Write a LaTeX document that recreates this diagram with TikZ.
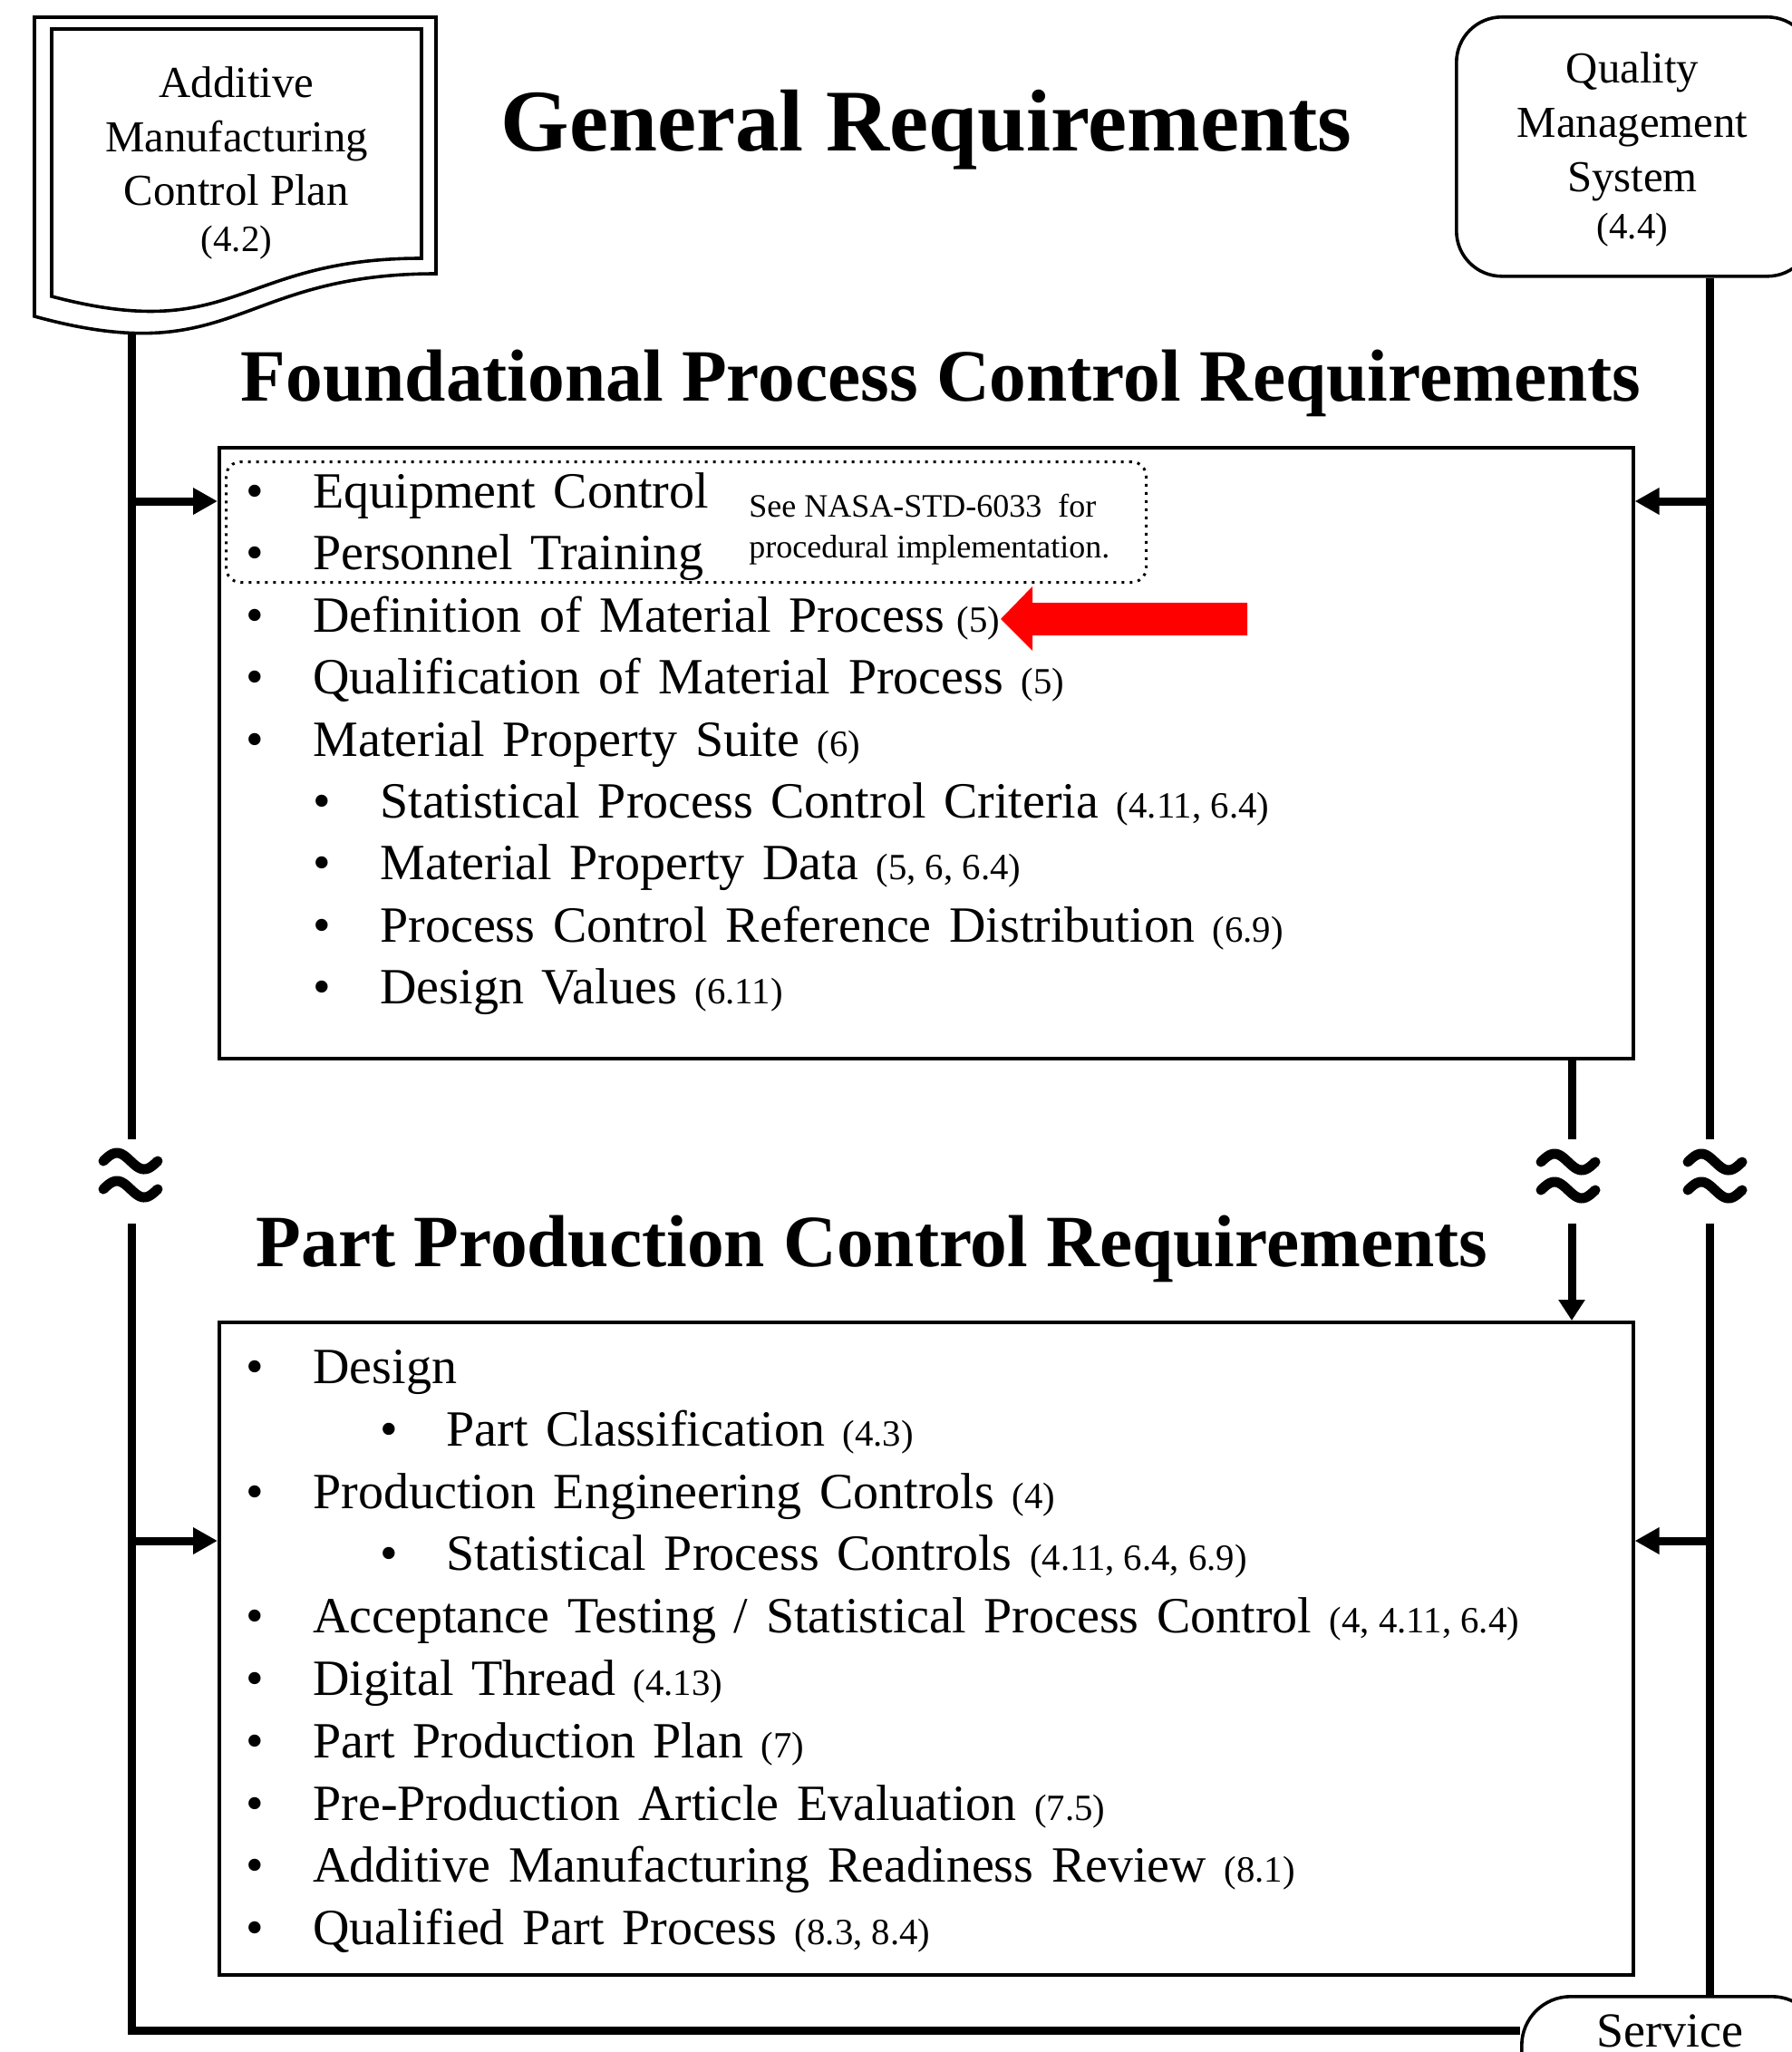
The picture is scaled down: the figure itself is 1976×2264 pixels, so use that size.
\documentclass[tikz,border=0pt]{standalone}
\usepackage{fontspec}
\setmainfont{Liberation Serif}
\usetikzlibrary{arrows.meta}

\newcommand\bodyfont{\fontsize{28}{34}\selectfont\spaceskip=9.8pt plus 2pt minus 1pt\relax}
\newcommand\reffont{\fontsize{20.4}{24}\selectfont\spaceskip=0pt\relax}
\newcommand\boxfont{\fontsize{24.4}{29}\selectfont}
\newcommand\refn[1]{{\reffont(#1)}}
% bullet item: name, bullet x, text x, baseline y, text
\newcommand\bitem[5]{%
  \node[bul] (#1b) at (#2,#4) {\textbullet};
  \node[itm] (#1) at (#3,#4) {#5};}

\tikzset{
  heavy/.style={line width=4.5pt},
  frame/.style={draw, line width=1.8pt, fill=white, inner sep=0pt},
  feed/.style={line width=4.5pt, -{Triangle[length=13.5pt,width=14pt]}},
  drop/.style={line width=4.5pt, -{Triangle[length=11.5pt,width=14pt]}},
  wave/.style={line width=5.5pt, line cap=round},
  bul/.style={anchor=base, inner sep=0pt, font=\bodyfont},
  itm/.style={anchor=base west, inner sep=0pt, font=\bodyfont},
  title/.style={anchor=base, inner sep=0pt, font=\bfseries\fontsize{40.7}{48}\selectfont},
  label/.style={anchor=base, inner sep=0pt, font=\boxfont},
  labelsm/.style={anchor=base, inner sep=0pt, font=\fontsize{20.5}{24}\selectfont},
}

\begin{document}
\begin{tikzpicture}[x=0.5pt,y=-0.5pt]
\useasboundingbox (0,0) rectangle (1976,2264);
\fill[white] (0,0) rectangle (1976,2264);

% ---------- boxes ----------
\node[frame, anchor=north west, minimum width=780pt, minimum height=337pt] (fbox) at (240,492) {};
\node[frame, anchor=north west, minimum width=780pt, minimum height=360pt] (pbox) at (240,1457) {};
\node[frame, anchor=north west, rounded corners=25pt, minimum width=196.5pt, minimum height=143pt] (qms) at (1605,17) {};
\node[frame, anchor=north west, rounded corners=27pt, minimum width=165pt, minimum height=60pt] (svc) at (1677,2201) {};
\node[draw, line width=1.5pt, dash pattern=on 1.5pt off 3pt, rounded corners=8pt, inner sep=0pt,
      anchor=north west, minimum width=507.5pt, minimum height=66.5pt] (note) at (248,508) {};

% ---------- titles ----------
\node[title, font=\bfseries\fontsize{48.5}{56}\selectfont] (gen) at (1022,166) {General Requirements};
\node[title] (fpc) at (1038,442) {Foundational Process Control Requirements};
\node[title] (ppc) at (962,1397) {Part Production Control Requirements};

% ---------- side boxes text ----------
\node[label] (q1) at (1801,92) {Quality};
\node[label] (q2) at (1801,152) {Management};
\node[label] (q3) at (1801,211) {System};
\node[labelsm] (q4) at (1801,263) {(4.4)};
\node[label, font=\fontsize{27}{32}\selectfont] (svct) at (1842,2258) {Service};

% ---------- foundational list ----------
\bitem{fa}{281}{345}{560}{Equipment Control}
\bitem{fb}{281}{345}{628}{Personnel Training}
\bitem{fc}{281}{345}{697}{Definition of Material Process\hspace{7pt}\refn{5}}
\bitem{fd}{281}{345}{765}{Qualification of Material Process \refn{5}}
\bitem{fe}{281}{345}{834}{Material Property Suite \refn{6}}
\bitem{ff}{355}{419}{902}{Statistical Process Control Criteria \refn{4.11, 6.4}}
\bitem{fg}{355}{419}{970}{Material Property Data \refn{5, 6, 6.4}}
\bitem{fh}{355}{419}{1039}{Process Control Reference Distribution \refn{6.9}}
\bitem{fi}{355}{419}{1107}{Design Values \refn{6.11}}

\node[anchor=base west, inner sep=0pt, font=\fontsize{18}{22}\selectfont] (n1) at (826,570) {See NASA-STD-6033\ \ for};
\node[anchor=base west, inner sep=0pt, font=\fontsize{18}{22}\selectfont] (n2) at (826,615) {procedural implementation.};

% ---------- part production list ----------
\bitem{pa}{281}{345}{1526}{Design}
\bitem{pb}{429}{492}{1595}{Part Classification \refn{4.3}}
\bitem{pc}{281}{345}{1664}{Production Engineering Controls \refn{4}}
\bitem{pd}{429}{492}{1732}{Statistical Process Controls \refn{4.11, 6.4, 6.9}}
\bitem{pe}{281}{345}{1801}{Acceptance Testing / Statistical Process Control \refn{4, 4.11, 6.4}}
\bitem{pf}{281}{345}{1870}{Digital Thread \refn{4.13}}
\bitem{pg}{281}{345}{1939}{Part Production Plan \refn{7}}
\bitem{ph}{281}{345}{2008}{Pre-Production Article Evaluation \refn{7.5}}
\bitem{pi}{281}{345}{2076}{Additive Manufacturing Readiness Review \refn{8.1}}
\bitem{pj}{281}{345}{2145}{Qualified Part Process \refn{8.3, 8.4}}

% ---------- red pointer ----------
\fill[red] (1104,683) -- (1139,647) -- (1139,665) -- (1376,665) -- (1376,701) -- (1139,701) -- (1139,718) -- cycle;

% ---------- trunk lines ----------
\coordinate (ltop) at (145,362);
\coordinate (lbrkA) at (145,1257);
\coordinate (lbrkB) at (145,1350);
\coordinate (lcorner) at (145,2240);
\coordinate (rbrkA) at (1886,1257);
\coordinate (rbrkB) at (1886,1350);
\coordinate (mbrkA) at (1734,1257);
\coordinate (mbrkB) at (1734,1350);
\coordinate (lA) at (145,553);
\coordinate (lB) at (145,1700);
\coordinate (rA) at (1886,553);
\coordinate (rB) at (1886,1700);

\draw[heavy] (ltop) -- (lbrkA);
\draw[heavy, line join=miter] (lbrkB) -- (lcorner) -- (lcorner -| svc.west);
\draw[heavy] (qms.south -| rbrkA) -- (rbrkA);
\draw[heavy] (rbrkB) -- (svc.north -| rbrkB);
\draw[heavy] (fbox.south -| mbrkA) -- (mbrkA);
\draw[drop] (mbrkB) -- (pbox.north -| mbrkB);

\draw[feed] (lA) -- (lA -| fbox.west);
\draw[feed] (lB) -- (lB -| pbox.west);
\draw[feed] (rA) -- (rA -| fbox.east);
\draw[feed] (rB) -- (rB -| pbox.east);

% ---------- break marks ----------
\foreach \cx/\cy in {144/1281, 144/1312, 1730/1282, 1730/1313, 1892/1282, 1892/1313}
  \draw[wave] plot[domain=-30:30, samples=40] ({\cx+\x}, {\cy+9*sin(6*\x)});

% ---------- control plan document ----------
\draw[line width=1.8pt, fill=white] (38,19) -- (481,19) -- (481,302)
   .. controls (259.5,302) and (259.5,410) .. (38,349) -- cycle;
\draw[line width=1.8pt] (57,32) -- (465,32) -- (465,285)
   .. controls (261,285) and (261,381) .. (57,327) -- cycle;
\node[label] (d1) at (261,108) {Additive};
\node[label] (d2) at (261,167) {Manufacturing};
\node[label] (d3) at (261,226) {Control Plan};
\node[labelsm] (d4) at (261,277) {(4.2)};
\end{tikzpicture}
\end{document}
